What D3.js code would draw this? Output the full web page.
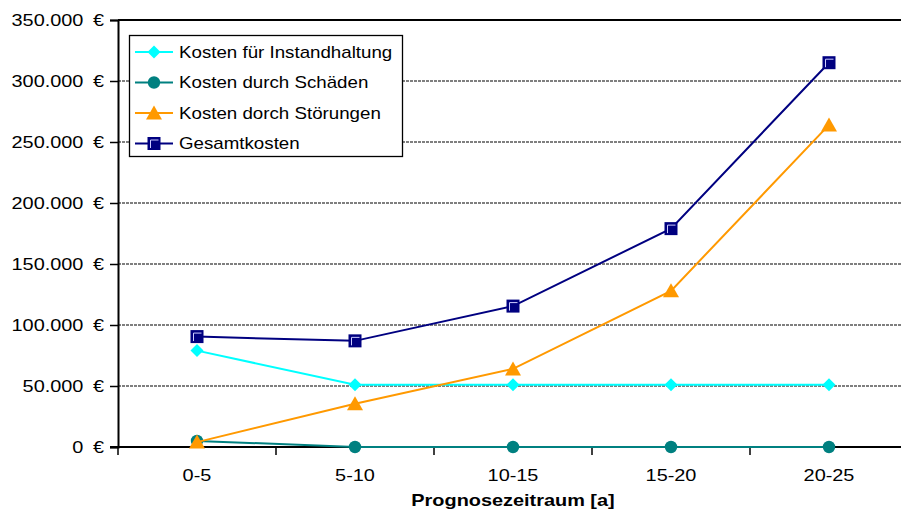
<!DOCTYPE html>
<html><head><meta charset="utf-8">
<script src="https://cdn.jsdelivr.net/npm/d3@7"></script>
<style>body{margin:0;background:#fff}svg{display:block}text{font-family:"Liberation Sans",Arial,sans-serif}</style>
</head><body><svg id="c" width="901" height="511"></svg>
<script>
const categories = ["0-5","5-10","10-15","15-20","20-25"];
const instandhaltung = [79000, 51000, 51000, 51000, 51000];
const schaeden = [5000, 0, 0, 0, 0];
const stoerungen = [4000, 35500, 64000, 128000, 264000];
const gesamt = [90500, 87000, 115500, 179000, 315000];
const yTicks = [0, 50000, 100000, 150000, 200000, 250000, 300000, 350000];
const seriesNames = ["Kosten für Instandhaltung","Kosten durch Schäden","Kosten dorch Störungen","Gesamtkosten"];
const seriesColors = ["#00FFFF","#008080","#FF9900","#000080"];
const seriesMarkers = ["diamond","circle","triangle","square"];
const xTitle = "Prognosezeitraum [a]";

const SX = 1.17; // horizontal text stretch of the reference
const svg = d3.select("#c");
const L = 118, T = 20, B = 447, R = 908;
const x = d3.scaleBand().domain(categories).range([L, R]);
const y = d3.scaleLinear().domain([0, 350000]).range([B, T]);
const fmt = v => d3.format(",")(v).replace(/,/g, ".") + "\u00a0\u2009€";

// gridlines
svg.append("g").selectAll("line").data(yTicks.filter(v => v > 0 && v < 350000)).join("line")
  .attr("x1", L).attr("x2", R).attr("y1", d => y(d)).attr("y2", d => y(d))
  .attr("stroke", "#000").attr("stroke-width", 1.2).attr("stroke-dasharray", "3,1");
// top border
svg.append("line").attr("x1", L).attr("x2", R).attr("y1", T).attr("y2", T).attr("stroke", "#000").attr("stroke-width", 2);

// y axis
const yAxis = svg.append("g").attr("transform", `translate(${L},0)`)
  .call(d3.axisLeft(y).tickValues(yTicks).tickFormat(fmt).tickSizeOuter(0).tickSize(8));
yAxis.select(".domain").attr("stroke-width", 2);
yAxis.selectAll(".tick line").attr("stroke-width", 1.5);
yAxis.selectAll("text").attr("font-size", 17).attr("fill", "#000")
  .attr("x", 0).attr("dy", "0.35em").attr("transform", `translate(-14,0) scale(${SX},1)`);

// x axis
const xAxis = svg.append("g").attr("transform", `translate(0,${B})`)
  .call(d3.axisBottom(x).tickSize(0));
xAxis.select(".domain").remove();
xAxis.selectAll("text").attr("font-size", 17).attr("fill", "#000")
  .attr("y", 0).attr("dy", 0).attr("transform", `translate(0,34) scale(${SX},1)`);
svg.append("line").attr("x1", L - 8).attr("x2", R).attr("y1", B).attr("y2", B).attr("stroke", "#000").attr("stroke-width", 2);
svg.append("g").selectAll("line").data(categories).join("line")
  .attr("x1", d => x(d)).attr("x2", d => x(d)).attr("y1", B).attr("y2", B + 8)
  .attr("stroke", "#000").attr("stroke-width", 1.5);
svg.append("text").attr("transform", `translate(${(L + R) / 2},506) scale(${SX},1)`).attr("text-anchor", "middle")
  .attr("font-size", 17).attr("font-weight", "bold").text(xTitle);

function marker(g, type, color, cx, cy) {
  if (type === "diamond") {
    g.append("path").attr("d", `M${cx},${cy-6.5}L${cx+6.5},${cy}L${cx},${cy+6.5}L${cx-6.5},${cy}Z`).attr("fill", color);
  } else if (type === "circle") {
    g.append("circle").attr("cx", cx).attr("cy", cy).attr("r", 6.2).attr("fill", color);
  } else if (type === "triangle") {
    g.append("path").attr("d", `M${cx},${cy-7.5}L${cx+8},${cy+6.5}L${cx-8},${cy+6.5}Z`).attr("fill", color);
  } else {
    g.append("rect").attr("x", cx - 6.5).attr("y", cy - 6.5).attr("width", 13).attr("height", 13).attr("fill", color);
    g.append("path").attr("d", `M${cx-3.5},${cy+4.5}V${cy-3.5}H${cx+4.5}`).attr("fill", "none").attr("stroke", "#ccccff").attr("stroke-width", 1);
  }
}

const allSeries = [instandhaltung, schaeden, stoerungen, gesamt];
const cx = d => x(d) + x.bandwidth() / 2;
allSeries.forEach((vals, i) => {
  const g = svg.append("g");
  const pts = categories.map((c, j) => [cx(c), y(vals[j])]);
  g.append("path").attr("d", d3.line()(pts)).attr("fill", "none").attr("stroke", seriesColors[i]).attr("stroke-width", 2);
  pts.forEach(p => marker(g, seriesMarkers[i], seriesColors[i], p[0], p[1]));
});

// legend
const lg = svg.append("g");
lg.append("rect").attr("x", 129.5).attr("y", 35.5).attr("width", 273).attr("height", 121)
  .attr("fill", "#fff").attr("stroke", "#000").attr("stroke-width", 1.3);
seriesNames.forEach((n, i) => {
  const yy = 52 + i * 30.5;
  lg.append("line").attr("x1", 135).attr("x2", 173).attr("y1", yy).attr("y2", yy).attr("stroke", seriesColors[i]).attr("stroke-width", 2);
  marker(lg, seriesMarkers[i], seriesColors[i], 154, yy);
  lg.append("text").attr("transform", `translate(179,${yy}) scale(${SX},1)`).attr("dy", "0.36em").attr("font-size", 16).text(n);
});
</script></body></html>
